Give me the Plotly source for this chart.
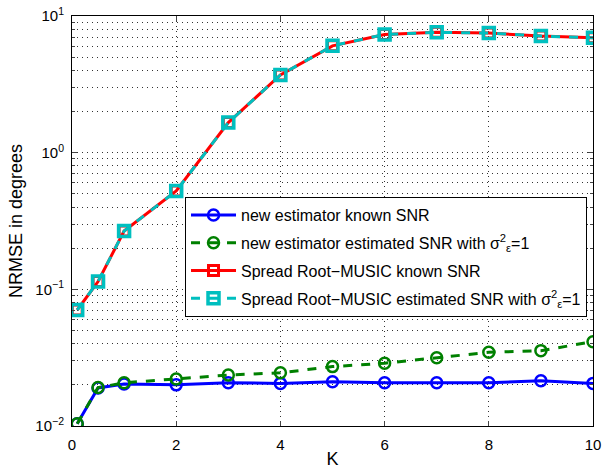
import plotly.graph_objects as go

K = [0.1, 0.5, 1, 2, 3, 4, 5, 6, 7, 8, 9, 10]
new_known = [0.0104, 0.0190, 0.0203, 0.0200, 0.0207, 0.0205, 0.0211, 0.0207, 0.0207, 0.0207, 0.0214, 0.0205]
new_est = [0.0104, 0.0191, 0.0207, 0.0221, 0.0236, 0.0245, 0.0272, 0.0288, 0.0316, 0.0346, 0.0356, 0.0414]
srm_known = [0.0706, 0.114, 0.267, 0.524, 1.66, 3.70, 6.05, 7.33, 7.59, 7.50, 7.13, 6.93]
srm_est = [0.0706, 0.114, 0.267, 0.524, 1.66, 3.70, 6.05, 7.33, 7.59, 7.50, 7.13, 6.93]

names = [
    "new estimator known SNR",
    "new estimator estimated SNR with σ<sup>2</sup><sub>ε</sub>=1",
    "Spread Root−MUSIC known SNR",
    "Spread Root−MUSIC estimated SNR with σ<sup>2</sup><sub>ε</sub>=1",
]
y_tickvals = [0.01, 0.1, 1, 10]
y_ticktext = ["10<sup>−2</sup>", "10<sup>−1</sup>", "10<sup>0</sup>", "10<sup>1</sup>"]
x_tickvals = [0, 2, 4, 6, 8, 10]

fig = go.Figure()
fig.add_trace(go.Scatter(x=K, y=new_known, name=names[0], mode="lines+markers", legendgroup="a",
                         line=dict(color="#0000FF", width=3),
                         marker=dict(symbol="circle-open", size=11, line=dict(width=2.5, color="#0000FF"))))
fig.add_trace(go.Scatter(x=K, y=new_est, name=names[1], mode="lines+markers", legendgroup="b",
                         line=dict(color="#008000", width=3, dash="dash"),
                         marker=dict(symbol="circle-open", size=11, line=dict(width=2.5, color="#008000"))))
fig.add_trace(go.Scatter(x=K, y=srm_known, name=names[2], mode="lines+markers", legendgroup="c",
                         line=dict(color="#FF0000", width=3),
                         marker=dict(symbol="square-open", size=10, line=dict(width=3, color="#FF0000"))))
fig.add_trace(go.Scatter(x=K, y=srm_est, name=names[3], mode="lines+markers", legendgroup="d",
                         line=dict(color="#00BFBF", width=3, dash="dash"),
                         marker=dict(symbol="square-open", size=11, line=dict(width=3.5, color="#00BFBF"))))

fam = "Liberation Sans, Arial, sans-serif"
font = dict(family=fam, size=15, color="black")
grid = dict(showgrid=True, gridcolor="#333333", griddash="1px,4px", gridwidth=1)
fig.update_layout(
    width=608, height=469,
    margin=dict(l=72, r=15, t=16, b=43),
    paper_bgcolor="white", plot_bgcolor="white",
    font=font,
    showlegend=True,
    legend=dict(x=0.9885, y=0.5585, xanchor="right", yanchor="top",
                bordercolor="black", borderwidth=1, bgcolor="white",
                font=dict(family=fam, size=16, color="black"),
                tracegroupgap=4, itemwidth=45),
)
fig.update_xaxes(
    range=[0, 10], tickvals=x_tickvals, ticks="inside", ticklen=5,
    showline=True, linecolor="black", linewidth=1, mirror="ticks",
    zeroline=False, title=dict(text="K", standoff=2), ticklabelstandoff=5,
    automargin=False,
    **grid,
)
fig.update_yaxes(
    type="log", range=[-2, 1], tickvals=y_tickvals, ticktext=y_ticktext,
    ticks="inside", ticklen=5,
    showline=True, linecolor="black", linewidth=1, mirror="ticks",
    minor=dict(ticks="inside", ticklen=3, showgrid=True, gridcolor="#333333", griddash="1px,4px",
               dtick="D1"),
    zeroline=False, title=dict(text="NRMSE in degrees", standoff=8), ticklabelstandoff=4,
    automargin=False,
    **grid,
)
fig.write_html("out.html")
